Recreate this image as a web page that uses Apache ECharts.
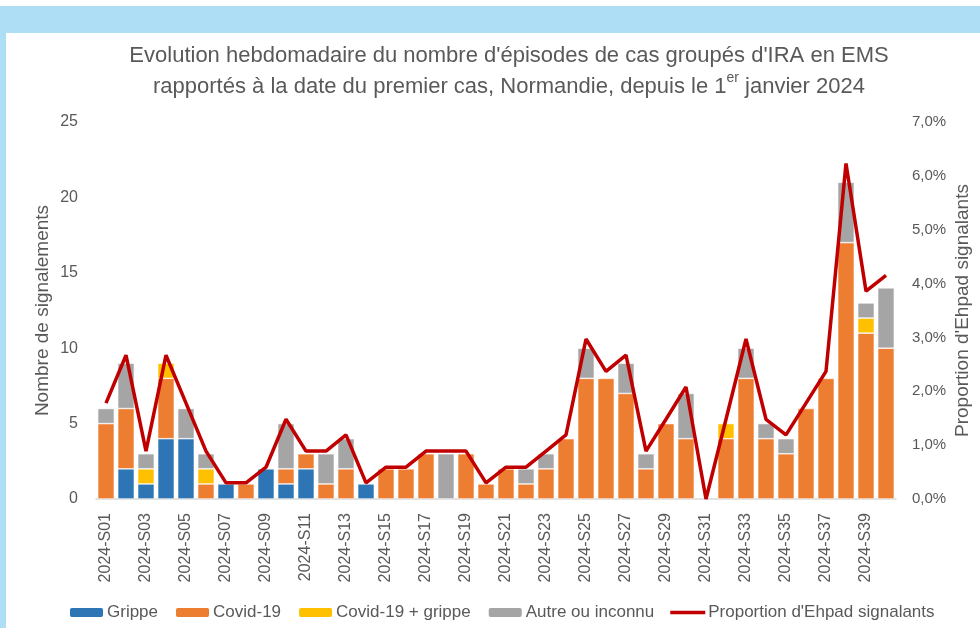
<!DOCTYPE html>
<html>
<head>
<meta charset="utf-8">
<script src="https://cdn.jsdelivr.net/npm/echarts@6/dist/echarts.min.js"></script>
<style>
  html, body { margin: 0; padding: 0; background: #fff; }
  #wrap { position: relative; width: 980px; height: 628px; overflow: hidden; }
  .band { position: absolute; background: #aeddf6; }
  #chart { position: absolute; left: 0; top: 0; width: 980px; height: 628px; }
</style>
</head>
<body>
<div id="wrap">
  <div class="band" style="left:0;top:6px;width:980px;height:27px"></div>
  <div class="band" style="left:0;top:6px;width:6px;height:622px"></div>
  <div id="chart"></div>
</div>
<script>
// semaines
var weeks = ['2024-S01', '2024-S02', '2024-S03', '2024-S04', '2024-S05', '2024-S06', '2024-S07', '2024-S08',
  '2024-S09', '2024-S10', '2024-S11', '2024-S12', '2024-S13', '2024-S14', '2024-S15', '2024-S16',
  '2024-S17', '2024-S18', '2024-S19', '2024-S20', '2024-S21', '2024-S22', '2024-S23', '2024-S24',
  '2024-S25', '2024-S26', '2024-S27', '2024-S28', '2024-S29', '2024-S30', '2024-S31', '2024-S32',
  '2024-S33', '2024-S34', '2024-S35', '2024-S36', '2024-S37', '2024-S38', '2024-S39', '2024-S40']

var grippe = [0, 2, 1, 4, 4, 0, 1, 0, 2, 1, 2, 0, 0, 1, 0, 0, 0, 0, 0, 0,
  0, 0, 0, 0, 0, 0, 0, 0, 0, 0, 0, 0, 0, 0, 0, 0, 0, 0, 0, 0]
var covid = [5, 4, 0, 4, 0, 1, 0, 1, 0, 1, 1, 1, 2, 0, 2, 2, 3, 0, 3, 1,
  2, 1, 2, 4, 8, 8, 7, 2, 5, 4, 0, 4, 8, 4, 3, 6, 8, 17, 11, 10]
var covidGrippe = [0, 0, 1, 1, 0, 1, 0, 0, 0, 0, 0, 0, 0, 0, 0, 0, 0, 0, 0, 0,
  0, 0, 0, 0, 0, 0, 0, 0, 0, 0, 0, 1, 0, 0, 0, 0, 0, 0, 1, 0]
var autre = [1, 3, 1, 0, 2, 1, 0, 0, 0, 3, 0, 2, 2, 0, 0, 0, 0, 3, 0, 0,
  0, 1, 1, 0, 2, 0, 2, 1, 0, 3, 0, 0, 2, 1, 1, 0, 0, 4, 1, 4]
// proportion d'Ehpad signalants (%)
var proportion = [1.78, 2.67, 0.89, 2.67, 1.78, 0.89, 0.30, 0.30, 0.59, 1.48, 0.89, 0.89, 1.19, 0.30, 0.59, 0.59,
  0.89, 0.89, 0.89, 0.30, 0.59, 0.59, 0.89, 1.19, 2.97, 2.37, 2.67, 0.89, 1.48, 2.08, 0, 1.48,
  2.97, 1.48, 1.19, 1.78, 2.37, 6.23, 3.86, 4.15]

var font = 'Liberation Sans'
var grey = '#595959'

function bar (name, data, color) {
  return {
    name: name,
    type: 'bar',
    stack: 'total',
    barCategoryGap: '17%',
    itemStyle: { color: color, borderColor: '#fff', borderWidth: 0.6 },
    data: data.map(function (v) { return v === 0 ? '-' : v })
  }
}

var chart = echarts.init(document.getElementById('chart'))
var option = {
  backgroundColor: 'transparent',
  animation: false,
  textStyle: { fontFamily: font },
  title: {
    text: "Evolution hebdomadaire du nombre d'épisodes de cas groupés d'IRA en EMS\nrapportés à la date du premier cas, Normandie, depuis le 1{sup|er} janvier 2024",
    left: 504,
    top: 35,
    textAlign: 'center',
    textStyle: {
      fontFamily: font,
      fontSize: 22,
      fontWeight: 'normal',
      color: grey,
      lineHeight: 31,
      rich: {
        sup: { fontSize: 14, fontFamily: font, color: grey, verticalAlign: 'top', padding: [0, 0, 10, 0] }
      }
    }
  },
  legend: {
    left: 63,
    top: 599,
    itemWidth: 35,
    itemHeight: 11,
    itemGap: 16,
    textStyle: { fontFamily: font, fontSize: 17, color: grey, padding: [0, 0, 0, -2] },
    data: ['Grippe', 'Covid-19', 'Covid-19 + grippe', 'Autre ou inconnu',
      { name: "Proportion d'Ehpad signalants", icon: 'path://M0,0 L36,0 L36,3.6 L0,3.6 Z' }]
  },
  grid: { left: 96, right: 84, top: 122, bottom: 129, outerBoundsMode: 'none' },
  xAxis: {
    type: 'category',
    data: weeks,
    axisLine: { lineStyle: { color: '#d9d9d9', width: 1.5 } },
    axisTick: { show: false },
    axisLabel: { rotate: 90, interval: 1, margin: 14, fontFamily: font, fontSize: 16, color: grey }
  },
  yAxis: [
    {
      type: 'value',
      min: 0,
      max: 25,
      interval: 5,
      name: 'Nombre de signalements',
      nameLocation: 'middle',
      nameGap: 44,
      nameMoveOverlap: false,
      nameTextStyle: { fontFamily: font, fontSize: 19, color: grey },
      axisLine: { show: false },
      axisTick: { show: false },
      splitLine: { show: false },
      axisLabel: { margin: 18, fontFamily: font, fontSize: 16, color: grey }
    },
    {
      type: 'value',
      min: 0,
      max: 7,
      interval: 1,
      position: 'right',
      name: "Proportion d'Ehpad signalants",
      nameLocation: 'middle',
      nameGap: 57,
      nameRotate: 90,
      nameMoveOverlap: false,
      nameTextStyle: { fontFamily: font, fontSize: 19, color: grey },
      axisLine: { show: false },
      axisTick: { show: false },
      splitLine: { show: false },
      axisLabel: {
        margin: 16,
        fontFamily: font,
        fontSize: 15,
        color: grey,
        formatter: function (v) { return v.toFixed(1).replace('.', ',') + '%' }
      }
    }
  ],
  series: [
    bar('Grippe', grippe, '#2e75b6'),
    bar('Covid-19', covid, '#ed7d31'),
    bar('Covid-19 + grippe', covidGrippe, '#ffc000'),
    bar('Autre ou inconnu', autre, '#a5a5a5'),
    {
      name: "Proportion d'Ehpad signalants",
      type: 'line',
      yAxisIndex: 1,
      symbol: 'none',
      lineStyle: { color: '#c00000', width: 3.5 },
      itemStyle: { color: '#c00000' },
      data: proportion
    }
  ]
}
chart.setOption(option)
</script>
</body>
</html>
